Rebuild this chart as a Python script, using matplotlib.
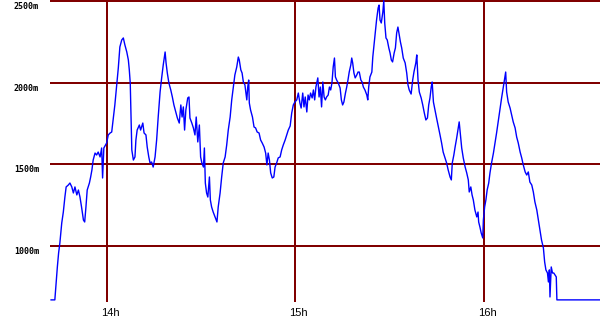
import matplotlib
matplotlib.use("Agg")
import matplotlib.pyplot as plt
from matplotlib.transforms import ScaledTranslation

# minutes after 13:00, altitude in metres
minutes = [
    42.2, 43.4, 43.8, 44.2, 44.6, 45.0, 45.6, 46.1, 46.6, 47.0,
    47.7, 48.2, 48.8, 49.3, 49.8, 50.4, 50.9, 51.4, 51.9, 52.5,
    52.9, 53.3, 53.7, 54.4, 54.8, 55.2, 55.6, 56.2, 56.7, 57.2,
    57.8, 58.3, 58.6, 59.0, 59.5, 59.9, 60.4, 61.0, 61.5, 62.0,
    62.5, 63.1, 63.6, 64.1, 64.7, 65.2, 65.7, 66.3, 66.8, 67.1,
    67.4, 67.6, 67.9, 68.4, 68.9, 69.2, 69.6, 70.3, 70.7, 71.4,
    71.8, 72.4, 72.8, 73.3, 73.7, 74.2, 74.7, 75.3, 75.8, 76.3,
    76.9, 77.4, 77.9, 78.5, 78.8, 79.2, 79.7, 80.3, 80.8, 81.3,
    81.9, 82.4, 83.0,
    83.5, 83.9, 84.3, 84.7, 85.1, 85.7, 86.1, 86.4, 87.0, 87.5,
    88.0, 88.4, 88.9, 89.4, 89.8, 90.2, 90.7, 91.0, 91.3, 91.7,
    92.1, 92.6, 92.9, 93.3, 93.8, 94.4, 95.0, 95.4, 96.0, 96.5,
    97.0, 97.6, 98.1, 98.6, 99.2, 99.7, 100.2, 100.7, 101.3, 101.8,
    102.1, 102.6, 103.0, 103.4, 103.9, 104.5, 104.8, 105.1, 105.3, 105.7,
    106.3, 106.8, 107.3, 107.8, 108.4, 108.9, 109.4, 110.0, 110.5, 110.9,
    111.3, 111.7, 112.1, 112.6, 113.1, 113.5, 114.0, 114.5, 115.1, 115.6,
    116.1, 116.7, 117.2, 117.7, 118.3,
    118.8, 119.3, 119.8, 120.4, 120.9, 121.4, 121.8, 122.3, 122.7, 123.1,
    123.6, 124.0, 124.4, 124.8, 125.3, 125.7, 126.1, 126.5, 127.1, 127.5,
    127.9, 128.3, 128.7, 129.1, 129.5, 129.9, 130.4, 130.8, 131.2, 131.6,
    132.0, 132.4, 132.7, 133.1, 133.6, 134.2, 134.6, 135.0, 135.4, 135.9,
    136.3, 136.7, 137.1, 137.6, 137.9, 138.2, 138.6, 139.0, 139.5, 139.9,
    140.3, 140.8, 141.2, 141.6, 142.1, 142.7, 143.0, 143.3, 143.7, 144.3,
    144.6, 145.0, 145.4, 145.8, 146.3, 146.6, 146.9, 147.3, 147.8, 148.1,
    148.4, 148.8, 149.2, 149.7, 150.1, 150.5, 150.9, 151.4, 151.8, 152.2,
    152.6, 152.9, 153.4, 153.8, 154.3, 154.9, 155.4, 155.8, 156.2,
    156.8, 157.3, 157.7, 158.3, 158.6, 159.0, 159.4, 160.0, 160.5, 161.0,
    161.5, 162.0, 162.4, 162.8, 163.2, 163.5, 163.9, 164.4, 164.9, 165.5,
    166.0, 166.5, 167.0, 167.6, 168.1, 168.6, 169.2, 169.6, 169.9, 170.4,
    170.8, 171.3, 171.7, 172.1, 172.5, 172.9, 173.4, 174.0, 174.5, 175.0,
    175.3, 175.8, 176.2, 176.6, 177.1, 177.7, 178.1, 178.3, 178.7, 179.1,
    179.6, 179.8, 180.2, 180.6, 181.0, 181.5, 181.9, 182.4, 183.0, 183.5,
    184.0, 184.5, 185.1, 185.6, 186.1, 186.6, 186.9, 187.2, 187.7, 188.3,
    188.8, 189.3, 189.9, 190.4, 190.9, 191.5, 192.0, 192.5, 193.1, 193.6,
    194.1, 194.6, 195.2, 195.7, 196.2, 196.8, 197.3, 197.8, 198.3, 198.9,
    199.3, 199.7, 200.2, 200.5, 200.8, 201.0, 201.4, 201.8, 202.2, 202.6,
    203.0, 203.2, 216.9,
]
altitude = [
    669, 669, 773, 871, 957, 1018, 1141, 1208, 1300, 1362,
    1374, 1386, 1362, 1325, 1362, 1313, 1343, 1300, 1239, 1159,
    1147, 1239, 1343, 1386, 1423, 1466, 1527, 1570, 1558, 1576,
    1546, 1601, 1417, 1601, 1619, 1632, 1681, 1693, 1699, 1785,
    1865, 1988, 2092, 2221, 2264, 2276, 2233, 2190, 2141, 2080,
    2000, 1834, 1589, 1527, 1546, 1650, 1711, 1742, 1711, 1754,
    1693, 1681, 1607, 1546, 1509, 1515, 1484, 1546, 1650, 1791,
    1945, 2031, 2110, 2190, 2123, 2061, 2000, 1957, 1914, 1865,
    1822, 1785, 1754,
    1865, 1791, 1853, 1711, 1834, 1908, 1914, 1785, 1754, 1724,
    1681, 1791, 1638, 1742, 1546, 1509, 1484, 1601, 1386, 1325,
    1300, 1423, 1282, 1239, 1208, 1178, 1147, 1239, 1325, 1423,
    1509, 1546, 1619, 1711, 1791, 1896, 1975, 2049, 2098, 2159,
    2141, 2080, 2061, 2006, 1988, 1896, 1975, 2018, 1877, 1834,
    1791, 1730, 1724, 1699, 1693, 1650, 1632, 1607, 1570, 1497,
    1570, 1527, 1448, 1417, 1423, 1484, 1509, 1540, 1546, 1589,
    1619, 1650, 1681, 1711, 1736,
    1816, 1865, 1883, 1896, 1938, 1877, 1846, 1938, 1853, 1914,
    1822, 1926, 1896, 1938, 1908, 1957, 1896, 1975, 2031, 1914,
    1975, 1853, 2006, 1914, 1896, 1914, 1926, 1975, 1957, 2000,
    2098, 2153, 2037, 2018, 2000, 1969, 1896, 1865, 1883, 1938,
    1975, 2018, 2067, 2110, 2153, 2123, 2061, 2031, 2049, 2067,
    2067, 2018, 2006, 1975, 1957, 1926, 1896, 1975, 2037, 2067,
    2159, 2233, 2307, 2386, 2460, 2478, 2386, 2368, 2435, 2505,
    2368, 2276, 2264, 2215, 2184, 2141, 2129, 2184, 2215, 2307,
    2343, 2307, 2251, 2215, 2153, 2123, 2061, 1988, 1957,
    1932, 2018, 2067, 2123, 2172, 2018, 1945, 1908, 1865, 1816,
    1773, 1785, 1865, 1908, 1975, 2006, 1883, 1834, 1785, 1730,
    1681, 1632, 1576, 1540, 1509, 1466, 1423, 1405, 1509, 1558,
    1607, 1662, 1711, 1761, 1681, 1601, 1540, 1484, 1448, 1405,
    1331, 1362, 1313, 1282, 1221, 1178, 1208, 1147, 1116, 1080,
    1049, 1159, 1239, 1282, 1343, 1386, 1448, 1509, 1570, 1632,
    1693, 1761, 1846, 1908, 1969, 2031, 2067, 1945, 1883, 1846,
    1804, 1761, 1724, 1668, 1632, 1576, 1540, 1497, 1454, 1435,
    1454, 1392, 1374, 1331, 1270, 1221, 1159, 1098, 1037, 988,
    902, 853, 834, 779, 853, 687, 871, 834, 834, 822,
    810, 669, 669,
]

hour_ticks = [60, 120, 180]
hour_labels = ["14h", "15h", "16h"]
alt_ticks = [1000, 1500, 2000, 2500]
alt_labels = ["1000m", "1500m", "2000m", "2500m"]

grid_red = "#800000"

fig = plt.figure(figsize=(6, 3.3), dpi=100)
ax = fig.add_axes([50 / 600, 28 / 330, 550 / 600, 302 / 330])

ax.plot(minutes, altitude, color="#0000ff", lw=1.0, zorder=3)

ax.set_xlim(41.86, 216.92)
ax.set_ylim(656, 2509)

ax.set_xticks(hour_ticks)
ax.set_xticklabels(hour_labels, family="Liberation Sans", fontsize=8)
ax.set_yticks(alt_ticks)
ax.set_yticklabels(alt_labels, family="DejaVu Sans Mono", fontsize=6,
                   fontweight="bold", va="top")
ax.tick_params(axis="x", length=0, pad=4)
ax.tick_params(axis="y", length=0, pad=8)

for lbl in ax.get_xticklabels():
    lbl.set_transform(lbl.get_transform() + ScaledTranslation(3 / 100, 0, fig.dpi_scale_trans))
for lbl in ax.get_yticklabels():
    lbl.set_transform(lbl.get_transform() + ScaledTranslation(0, -1 / 100, fig.dpi_scale_trans))

ax.grid(True, color=grid_red, lw=1.1, antialiased=False, zorder=1)
ax.set_axisbelow(True)
for s in ax.spines.values():
    s.set_visible(False)

fig.savefig("out.png", dpi=100)
